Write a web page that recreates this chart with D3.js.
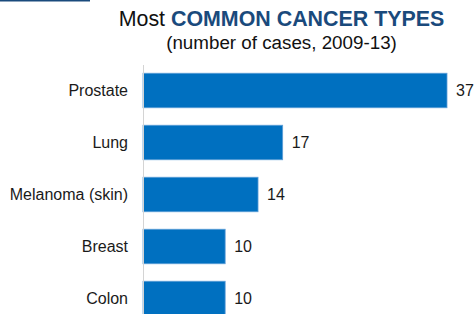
<!DOCTYPE html>
<html>
<head>
<meta charset="utf-8">
<script src="https://cdn.jsdelivr.net/npm/d3@7"></script>
<style>
  body { margin: 0; background: #fff; }
  svg text { font-family: "Liberation Sans", Arial, sans-serif; }
</style>
</head>
<body>
<div id="chart"></div>
<script>
// chart data
var cancerTypes = ["Prostate", "Lung", "Melanoma (skin)", "Breast", "Colon"];
var caseCounts = [37, 17, 14, 10, 10];

var width = 474, height = 314;
var navy = "#1a4a7c", barBlue = "#0070c0";

var svg = d3.select("#chart")
	.append("svg")
		.attr("width", width)
		.attr("height", height);

// small rule in the top-left corner
svg.append("line")
	.attr("x1", 0).attr("x2", 90)
	.attr("y1", 0.75).attr("y2", 0.75)
	.attr("stroke", navy)
	.attr("stroke-width", 1.5);

// title
var title = svg.append("text")
	.attr("x", 281.5)
	.attr("y", 26)
	.attr("text-anchor", "middle")
	.attr("font-size", "21.4px");
title.append("tspan").attr("fill", "#111").text("Most ");
title.append("tspan").attr("fill", navy).attr("font-weight", "bold").text("COMMON CANCER TYPES");

svg.append("text")
	.attr("x", 281.5)
	.attr("y", 48.5)
	.attr("text-anchor", "middle")
	.attr("font-size", "18.8px")
	.attr("fill", "#111")
	.text("(number of cases, 2009-13)");

// scales
var x = d3.scaleLinear()
	.domain([0, 37])
	.range([143, 447]);

var y = d3.scaleBand()
	.domain(cancerTypes)
	.range([64.5, 324.5])
	.paddingInner(0.336)
	.paddingOuter(0.168);

// bars
svg.selectAll("rect.bar")
	.data(cancerTypes)
	.enter()
	.append("rect")
		.attr("class", "bar")
		.attr("x", x(0))
		.attr("y", function(d){ return y(d) })
		.attr("width", function(d, i){ return x(caseCounts[i]) - x(0) })
		.attr("height", y.bandwidth())
		.attr("fill", barBlue)
		.attr("stroke", "#5f9fd8")
		.attr("stroke-width", 0.8);

// axis line (no ticks)
var yAxisCall = d3.axisLeft(y).tickSize(0).tickPadding(15);
var yAxis = svg.append("g")
	.attr("transform", "translate(" + x(0) + ",0)")
	.call(yAxisCall);
yAxis.select(".domain")
	.attr("d", "M0.5,65V" + height)
	.attr("stroke", "#d4d4d4");
yAxis.selectAll("text")
	.attr("font-size", "16px")
	.attr("font-family", "Liberation Sans, Arial, sans-serif")
	.attr("fill", "#1a1a1a");

// value labels
svg.selectAll("text.value")
	.data(cancerTypes)
	.enter()
	.append("text")
		.attr("class", "value")
		.attr("x", function(d, i){ return x(caseCounts[i]) + 9 })
		.attr("y", function(d){ return y(d) + y.bandwidth() / 2 })
		.attr("dy", "0.35em")
		.attr("font-size", "16px")
		.attr("fill", "#1a1a1a")
		.text(function(d, i){ return caseCounts[i] });
</script>
</body>
</html>
